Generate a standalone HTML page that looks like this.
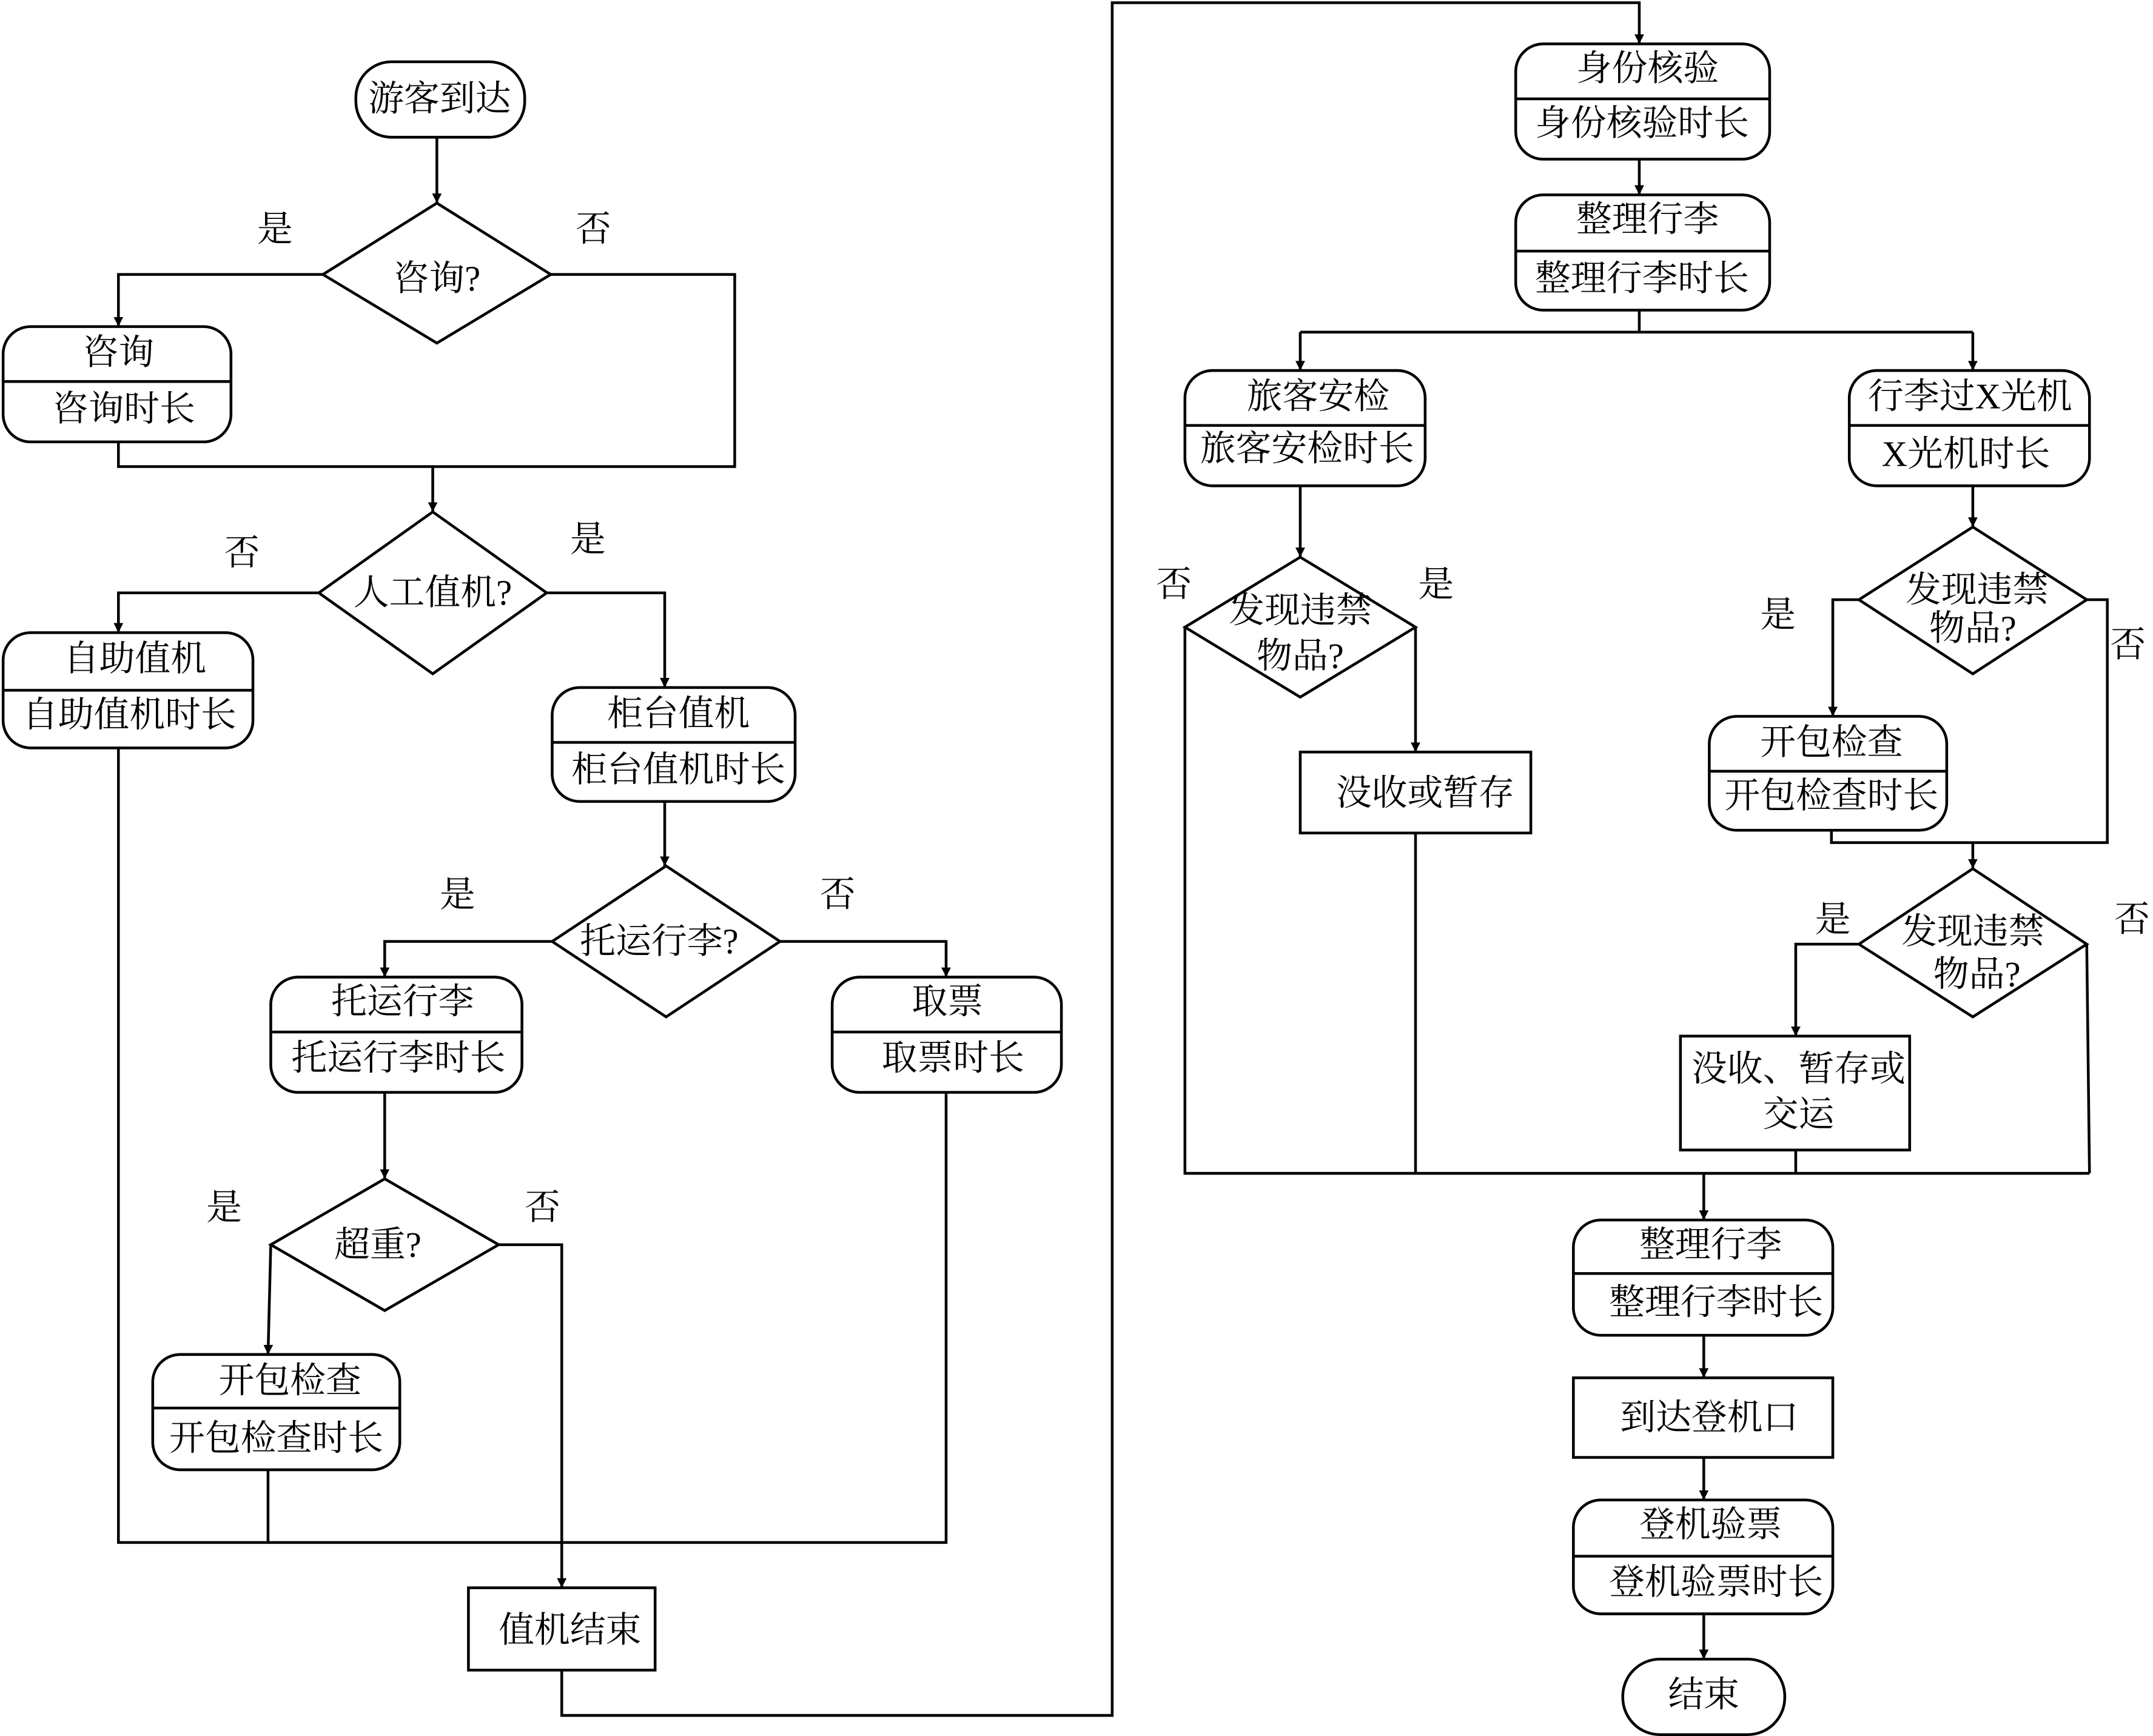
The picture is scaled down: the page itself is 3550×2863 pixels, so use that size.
<!DOCTYPE html>
<html><head><meta charset="utf-8"><style>
html,body{margin:0;padding:0;background:#fff;}
svg{display:block;}
text{font-family:"Liberation Serif","Noto Serif CJK SC",serif;font-size:26px;fill:#000;text-anchor:middle;dominant-baseline:central;}
</style></head><body>
<svg width="3550" height="2863" viewBox="0 0 1568 1265" xmlns="http://www.w3.org/2000/svg">
<defs><marker id="a" viewBox="0 0 10 10" refX="10" refY="5" markerWidth="7" markerHeight="7" markerUnits="userSpaceOnUse" orient="auto"><path d="M0,0L10,5L0,10z" fill="#000"/></marker></defs>
<g fill="none" stroke="#000" stroke-width="2">
<!-- nodes -->
<rect x="259" y="45" width="123" height="55" rx="26"/>
<polygon points="318,148 401,200 318,250 235,200"/>
<rect x="2" y="238" width="166" height="84" rx="20"/><line x1="2" y1="278" x2="168" y2="278"/>
<polygon points="315,373 398,432 315,491 232,432"/>
<rect x="2" y="461" width="182" height="84" rx="20"/><line x1="2" y1="503" x2="184" y2="503"/>
<rect x="402" y="501" width="177" height="83" rx="20"/><line x1="402" y1="541" x2="579" y2="541"/>
<polygon points="485,631 568,686 485,741 402,686"/>
<rect x="197" y="712" width="183" height="84" rx="20"/><line x1="197" y1="752" x2="380" y2="752"/>
<rect x="606" y="712" width="167" height="84" rx="20"/><line x1="606" y1="752" x2="773" y2="752"/>
<polygon points="280,859 363,907 280,955 197,907"/>
<rect x="111" y="987" width="180" height="84" rx="20"/><line x1="111" y1="1026" x2="291" y2="1026"/>
<rect x="341" y="1157" width="136" height="60"/>
<rect x="1104" y="32" width="185" height="84" rx="20"/><line x1="1104" y1="72" x2="1289" y2="72"/>
<rect x="1104" y="142" width="185" height="84" rx="20"/><line x1="1104" y1="183" x2="1289" y2="183"/>
<rect x="863" y="270" width="175" height="84" rx="20"/><line x1="863" y1="310" x2="1038" y2="310"/>
<rect x="1347" y="270" width="175" height="84" rx="20"/><line x1="1347" y1="310" x2="1522" y2="310"/>
<polygon points="947,406 1031,457 947,508 863,457"/>
<rect x="947" y="548" width="168" height="59"/>
<polygon points="1437,384 1520,437 1437,491 1354,437"/>
<rect x="1245" y="522" width="173" height="83" rx="20"/><line x1="1245" y1="562" x2="1418" y2="562"/>
<polygon points="1437,633 1520,688 1437,741 1354,688"/>
<rect x="1224" y="755" width="167" height="83"/>
<rect x="1146" y="889" width="189" height="84" rx="20"/><line x1="1146" y1="928" x2="1335" y2="928"/>
<rect x="1146" y="1004" width="189" height="58"/>
<rect x="1146" y="1093" width="189" height="83" rx="20"/><line x1="1146" y1="1134" x2="1335" y2="1134"/>
<rect x="1182" y="1209" width="118" height="55" rx="27"/>
<!-- connectors -->
<path d="M318,100V148" marker-end="url(#a)"/>
<path d="M235,200H86V238" marker-end="url(#a)"/>
<path d="M401,200H535V340H86V322"/>
<path d="M315,340V373" marker-end="url(#a)"/>
<path d="M232,432H86V461" marker-end="url(#a)"/>
<path d="M398,432H484V501" marker-end="url(#a)"/>
<path d="M484,584V631" marker-end="url(#a)"/>
<path d="M402,686H280V712" marker-end="url(#a)"/>
<path d="M568,686H689V712" marker-end="url(#a)"/>
<path d="M280,796V859" marker-end="url(#a)"/>
<path d="M197,907L195,987" marker-end="url(#a)"/>
<path d="M363,907H409V1157" marker-end="url(#a)"/>
<path d="M86,545V1124H689V796"/>
<path d="M195,1071V1124"/>
<path d="M409,1217V1250H810V2H1194V32" marker-end="url(#a)"/>
<path d="M1194,116V142" marker-end="url(#a)"/>
<path d="M1194,226V242"/>
<path d="M947,242H1437"/>
<path d="M947,242V270" marker-end="url(#a)"/>
<path d="M1437,242V270" marker-end="url(#a)"/>
<path d="M947,354V406" marker-end="url(#a)"/>
<path d="M863,457V855H1522"/>
<path d="M1031,457V548" marker-end="url(#a)"/>
<path d="M1031,607V855"/>
<path d="M1437,354V384" marker-end="url(#a)"/>
<path d="M1354,437H1335V522" marker-end="url(#a)"/>
<path d="M1520,437H1535V614H1334V605"/>
<path d="M1437,614V633" marker-end="url(#a)"/>
<path d="M1354,688H1308V755" marker-end="url(#a)"/>
<path d="M1520,688L1522,855"/>
<path d="M1308,838V855"/>
<path d="M1241,855V889" marker-end="url(#a)"/>
<path d="M1241,973V1004" marker-end="url(#a)"/>
<path d="M1241,1062V1093" marker-end="url(#a)"/>
<path d="M1241,1176V1209" marker-end="url(#a)"/>
</g>
<g>
<text x="320" y="72">游客到达</text>
<text x="318" y="203">咨询?</text>
<text x="200" y="167">是</text><text x="432" y="167">否</text>
<text x="86" y="257">咨询</text><text x="90" y="298">咨询时长</text>
<text x="315" y="432">人工值机?</text>
<text x="176" y="403">否</text><text x="428" y="393">是</text>
<text x="98" y="480">自助值机</text><text x="94" y="521">自助值机时长</text>
<text x="494" y="520">柜台值机</text><text x="494" y="561">柜台值机时长</text>
<text x="480" y="686">托运行李?</text>
<text x="333" y="652">是</text><text x="610" y="652">否</text>
<text x="293" y="730">托运行李</text><text x="290" y="771">托运行李时长</text>
<text x="690" y="730">取票</text><text x="694" y="771">取票时长</text>
<text x="275" y="907">超重?</text>
<text x="163" y="880">是</text><text x="395" y="880">否</text>
<text x="211" y="1006">开包检查</text><text x="201" y="1048">开包检查时长</text>
<text x="415" y="1188">值机结束</text>
<text x="1200" y="50">身份核验</text><text x="1196" y="90">身份核验时长</text>
<text x="1200" y="160">整理行李</text><text x="1196" y="203">整理行李时长</text>
<text x="960" y="289">旅客安检</text><text x="952" y="327">旅客安检时长</text>
<text x="1435" y="289">行李过X光机</text><text x="1432" y="331">X光机时长</text>
<text x="947" y="445">发现违禁</text><text x="947" y="478">物品?</text>
<text x="855" y="426">否</text><text x="1046" y="426">是</text>
<text x="1038" y="578">没收或暂存</text>
<text x="1440" y="430">发现违禁</text><text x="1437" y="458">物品?</text>
<text x="1295" y="448">是</text><text x="1550" y="470">否</text>
<text x="1334" y="541">开包检查</text><text x="1334" y="580">开包检查时长</text>
<text x="1437" y="679">发现违禁</text><text x="1440" y="710">物品?</text>
<text x="1335" y="670">是</text><text x="1553" y="670">否</text>
<text x="1310" y="779">没收、暂存或</text><text x="1310" y="812">交运</text>
<text x="1246" y="907">整理行李</text><text x="1250" y="949">整理行李时长</text>
<text x="1245" y="1033">到达登机口</text>
<text x="1246" y="1111">登机验票</text><text x="1250" y="1153">登机验票时长</text>
<text x="1241" y="1235">结束</text>
</g>
</svg>
</body></html>
